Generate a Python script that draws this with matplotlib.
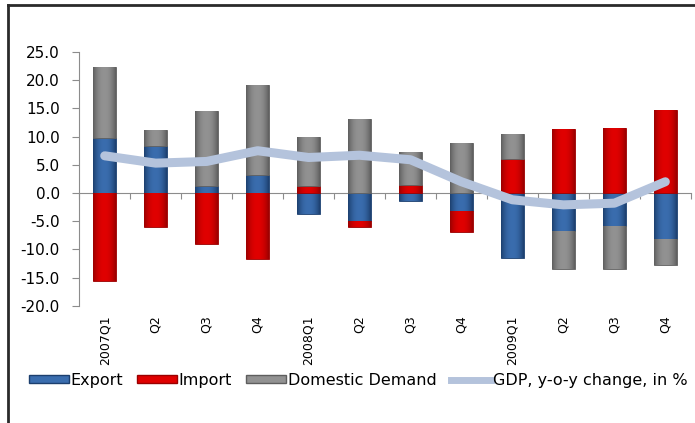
import numpy as np
import matplotlib
matplotlib.use('Agg')
import matplotlib.pyplot as plt
from matplotlib.colors import to_rgb
from matplotlib.lines import Line2D
from matplotlib.patches import Patch

##################################
# Data
##################################

quarters = ['2007Q1', 'Q2', 'Q3', 'Q4', '2008Q1', 'Q2', 'Q3', 'Q4',
            '2009Q1', 'Q2', 'Q3', 'Q4']
export = [9.8, 8.4, 1.3, 3.2, -3.7, -4.9, -1.4, -3.2, -11.6, -6.7, -5.9, -8.2]
imports = [-15.6, -6.0, -9.0, -11.7, 1.3, -1.2, 1.5, -3.7, 6.0, 11.3, 11.5, 14.8]
domestic = [12.6, 2.8, 13.2, 15.9, 8.7, 13.1, 5.7, 8.8, 4.4, -6.8, -7.5, -4.6]
gdp = [6.6, 5.3, 5.6, 7.5, 6.3, 6.7, 5.9, 2.0, -1.2, -2.1, -1.8, 2.0]

plt.rcParams['font.family'] = ['DejaVu Sans']

fig = plt.figure(figsize=(6.95, 4.23), dpi=100)
ax = fig.add_axes([0.114, 0.277, 0.880, 0.600])

x = np.arange(len(quarters))
width = 0.45

# Excel style stacking: positives upward, negatives downward, in series order
# (name, values, centre colour, edge colour)
series = [('Export', export, '#3A6DAE', '#1C3F6E'),
          ('Import', imports, '#E00000', '#9A0000'),
          ('Domestic Demand', domestic, '#929292', '#5E5E5E')]


def shade_bar(rect, light, dark):
    # horizontal gradient, darker at the sides like the excel bevel fill
    u = np.linspace(-1, 1, 64)
    t = 1 - np.abs(u) ** 2.2
    lo, hi = np.array(to_rgb(dark)), np.array(to_rgb(light))
    img = (lo[None, :] + (hi - lo)[None, :] * t[:, None])[None, :, :]
    x0, y0 = rect.get_x(), rect.get_y()
    w, h = rect.get_width(), rect.get_height()
    im = ax.imshow(img, extent=[x0, x0 + w, y0, y0 + h], aspect='auto',
                   interpolation='bilinear', zorder=3)
    im.set_clip_path(rect)


pos_base = np.zeros(len(x))
neg_base = np.zeros(len(x))
for name, vals, col, edge in series:
    vals = np.array(vals)
    bottom = np.where(vals >= 0, pos_base, neg_base)
    bars = ax.bar(x, vals, width, bottom=bottom, color=col, edgecolor=edge,
                  linewidth=0.6, zorder=3)
    for r in bars:
        shade_bar(r, col, edge)
    pos_base = pos_base + np.clip(vals, 0, None)
    neg_base = neg_base + np.clip(vals, None, 0)

ax.plot(x, gdp, color='#B4C3DC', linewidth=6.5, solid_capstyle='round',
        solid_joinstyle='round', zorder=4)

# axes look
ax.set_xlim(-0.5, len(x) - 0.5)
ax.set_ylim(-20, 25)
ax.set_yticks(np.arange(-20, 26, 5))
ax.set_yticklabels(['%.1f' % v for v in np.arange(-20, 26, 5)])
for s in ['top', 'right', 'bottom']:
    ax.spines[s].set_visible(False)
ax.spines['left'].set_color('#8C8C8C')
ax.tick_params(axis='y', colors='#8C8C8C', labelcolor='black', labelsize=11,
               length=5, pad=9)

ax.set_xticks(x)
ax.set_xticklabels(quarters, rotation=90, fontsize=9)
ax.tick_params(axis='x', length=0, pad=7)

# zero line with category ticks
zero = ax.secondary_xaxis(20 / 45)
zero.spines['bottom'].set_color('#8C8C8C')
zero.set_xticks(np.arange(len(x) + 1) - 0.5)
zero.tick_params(length=4, colors='#8C8C8C', labelbottom=False)

handles = [Patch(facecolor='#3A6DAE', edgecolor='#1C3F6E'),
           Patch(facecolor='#E00000', edgecolor='#9A0000'),
           Patch(facecolor='#929292', edgecolor='#5E5E5E'),
           Line2D([], [], color='#B4C3DC', linewidth=5)]
labels = ['Export', 'Import', 'Domestic Demand', 'GDP, y-o-y change, in %']
fig.legend(handles, labels, loc='center', bbox_to_anchor=(0.515, 0.101),
           ncol=4, frameon=False, fontsize=11.5, handlelength=2.5,
           handleheight=0.4, handletextpad=0.1, columnspacing=0.9)

# outer frame (cropped)
fig.add_artist(Line2D([0.0115, 1.0], [0.988, 0.988], color='#2A2A2A', linewidth=2,
                      transform=fig.transFigure))
fig.add_artist(Line2D([0.0115, 0.0115], [0.0, 0.988], color='#2A2A2A', linewidth=2,
                      transform=fig.transFigure))

plt.savefig('out.png', dpi=100)
